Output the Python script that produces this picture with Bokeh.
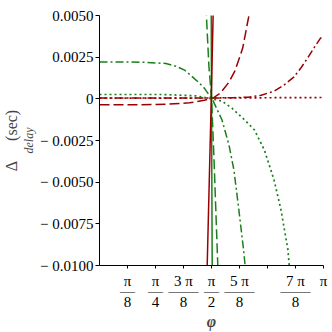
import numpy as np
from bokeh.plotting import figure
from bokeh.models import FixedTicker, Range1d, Title
from bokeh.embed import file_html
from bokeh.resources import INLINE

PI = np.pi

# ---- data (phi in units of pi, delay in seconds) ----
red_solid_phi = [0.479, 0.499, 0.508]
red_solid_y = [-0.011, 0.0, 0.0055]

red_dashed_phi = [0.0, 0.152, 0.297, 0.402, 0.468, 0.504, 0.539, 0.578, 0.604, 0.621, 0.639, 0.652, 0.661, 0.670, 0.676]
red_dashed_y = [-0.00036, -0.00036, -0.00033, -0.00024, -0.00008, 0.00002, 0.00034, 0.00100, 0.00166, 0.00231, 0.00303, 0.00393, 0.00458, 0.00518, 0.00572]

red_dashdot_phi = [0.0, 0.3, 0.5, 0.6, 0.665, 0.722, 0.779, 0.823, 0.867, 0.898, 0.928, 0.959, 0.986, 1.0]
red_dashdot_y = [0.00005, 0.00005, 0.00005, 0.00007, 0.0001, 0.00022, 0.00046, 0.00082, 0.0013, 0.00183, 0.00243, 0.00309, 0.00363, 0.00378]

red_dotted_phi = [0.0, 0.5, 1.0]
red_dotted_y = [0.00004, 0.00005, 0.00008]

green_solid_phi = [0.4987, 0.5, 0.5031, 0.5035]
green_solid_y = [0.0056, 0.0, -0.0100, -0.0110]

green_dashed_phi = [0.475, 0.4768, 0.4886, 0.5, 0.5118, 0.5281, 0.5307]
green_dashed_y = [0.0056, 0.00512, 0.00191, 0.00012, -0.00384, -0.0100, -0.0110]

green_dashdot_phi = [0.0, 0.196, 0.297, 0.341, 0.380, 0.415, 0.446, 0.468, 0.490, 0.503, 0.547, 0.578, 0.600, 0.622, 0.643, 0.650, 0.654]
green_dashdot_y = [0.00221, 0.00220, 0.00212, 0.00196, 0.00172, 0.00132, 0.00094, 0.00064, 0.00022, 0.0, -0.00127, -0.00277, -0.00426, -0.00665, -0.00904, -0.0100, -0.0110]

green_dotted_phi = [0.0, 0.284, 0.428, 0.503, 0.547, 0.591, 0.648, 0.692, 0.736, 0.779, 0.810, 0.841, 0.847, 0.852]
green_dotted_y = [0.00026, 0.00026, 0.00018, 0.0, -0.00014, -0.00056, -0.00127, -0.00187, -0.00307, -0.00486, -0.00665, -0.00904, -0.0100, -0.0110]

x_tick_k = [1, 2, 3, 4, 5, 6, 7, 8]
x_tick_labels = ["π\n—\n8", "π\n—\n4", "3 π\n——\n8", "π\n—\n2", "5 π\n——\n8", "", "7 π\n——\n8", "π"]
y_ticks = [0.005, 0.0025, 0.0, -0.0025, -0.005, -0.0075, -0.01]
y_tick_labels = ["0.0050", "0.0025", "0", "− 0.0025", "− 0.0050", "− 0.0075", "− 0.0100"]

RED = "#990000"
GREEN = "#1a7f1a"
FONT = "Liberation Serif"
NB = "\u00a0"

p = figure(width=332, height=332, output_backend="svg", toolbar_location=None,
           x_range=Range1d(0, PI), y_range=Range1d(-0.01, 0.005),
           min_border_left=95, min_border_right=9, min_border_top=15, min_border_bottom=66)
p.outline_line_color = None
p.grid.visible = False

def ph(a):
    return [v * PI for v in a]

lw = 1.5
p.line(ph(red_dotted_phi), red_dotted_y, color=RED, line_width=1.7, line_dash="2 3")
p.line(ph(red_dashdot_phi), red_dashdot_y, color=RED, line_width=lw, line_dash="8 3 2 3")
p.line(ph(green_dotted_phi), green_dotted_y, color=GREEN, line_width=1.7, line_dash="2 3")
p.line(ph(green_dashdot_phi), green_dashdot_y, color=GREEN, line_width=lw, line_dash="8 3 2 3")
p.line(ph(red_dashed_phi), red_dashed_y, color=RED, line_width=lw, line_dash="10 4")
p.line(ph(green_dashed_phi), green_dashed_y, color=GREEN, line_width=lw, line_dash="10 4")
p.line(ph(green_solid_phi), green_solid_y, color=GREEN, line_width=lw)
p.line(ph(red_solid_phi), red_solid_y, color=RED, line_width=lw)

xt = [k * PI / 8 for k in x_tick_k]
p.xaxis.ticker = FixedTicker(ticks=xt, minor_ticks=[])
p.xaxis.major_label_overrides = {t: s for t, s in zip(xt, x_tick_labels)}
p.yaxis.ticker = FixedTicker(ticks=y_ticks, minor_ticks=[])
p.yaxis.major_label_overrides = {t: s for t, s in zip(y_ticks, y_tick_labels)}

for ax in (p.xaxis[0], p.yaxis[0]):
    ax.axis_line_color = "black"
    ax.axis_line_width = 1
    ax.major_tick_in = 0
    ax.minor_tick_line_color = None
    ax.major_label_text_font = FONT
    ax.major_label_text_font_size = "15px"
    ax.major_label_text_color = "black"

p.xaxis.major_tick_out = 3
p.yaxis.major_tick_out = 4
p.yaxis.major_label_standoff = 2
p.xaxis.major_label_standoff = 4
p.xaxis.major_label_text_line_height = 0.66

p.xaxis.axis_label = "φ"
p.xaxis.axis_label_text_font = FONT
p.xaxis.axis_label_text_font_style = "bold italic"
p.xaxis.axis_label_text_font_size = "16px"
p.xaxis.axis_label_standoff = 0

# subscript of the y title, as the axis label (closest to tick labels)
p.yaxis.axis_label = "delay"
p.yaxis.axis_label_text_font = FONT
p.yaxis.axis_label_text_font_style = "italic"
p.yaxis.axis_label_text_font_size = "12px"
p.yaxis.axis_label_standoff = 1

# main part of the y title, further left
p.add_layout(Title(text="Δ" + NB * 5 + "(sec)", align="center", standoff=0,
                   text_font=FONT, text_font_size="16px", text_font_style="normal"), "left")

open("out.html", "w").write(file_html(p, INLINE))
